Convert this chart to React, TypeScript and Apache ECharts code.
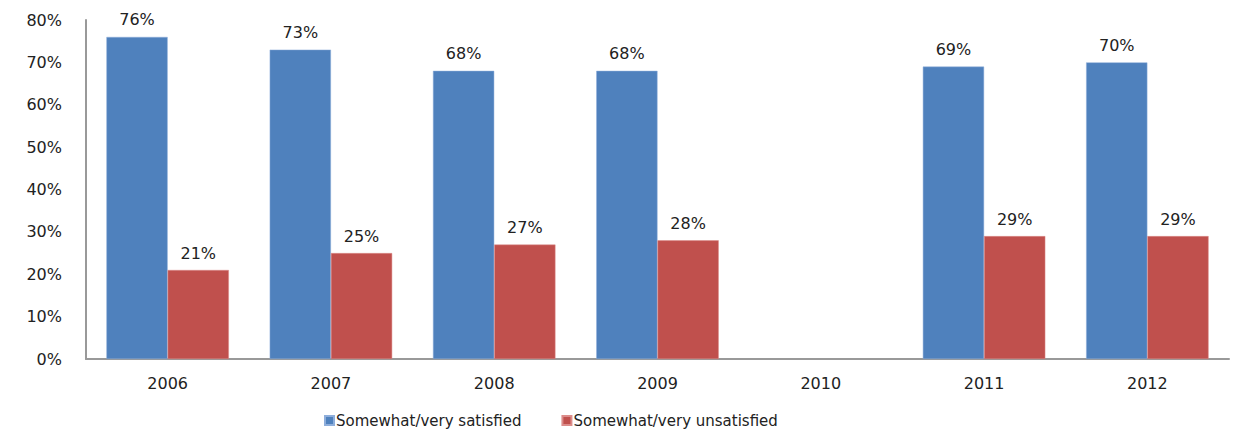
import React, { useEffect, useRef } from "react";
import * as echarts from "echarts";

const categories = ["2006", "2007", "2008", "2009", "2010", "2011", "2012"];
const satisfied: (number | null)[] = [76, 73, 68, 68, null, 69, 70];
const unsatisfied: (number | null)[] = [21, 25, 27, 28, null, 29, 29];
const yTicks = [0, 10, 20, 30, 40, 50, 60, 70, 80];

const FONT = "DejaVu Sans";

export default function App() {
  const ref = useRef<HTMLDivElement>(null);
  useEffect(() => {
    if (!ref.current) return;
    const chart = echarts.init(ref.current, undefined, { renderer: "svg" });
    const label = {
      show: true,
      position: "top" as const,
      distance: 9,
      formatter: (p: any) => `${p.value}%`,
      color: "#222",
      fontFamily: FONT,
      fontSize: 16,
    };
    chart.setOption({
      animation: false,
      textStyle: { fontFamily: FONT },
      grid: { left: 86, right: 13, top: 20, bottom: 74 },
      legend: {
        left: 324,
        top: 413,
        padding: 0,
        itemWidth: 9,
        itemHeight: 9,
        itemGap: 40,
        icon: "rect",
        textStyle: { fontFamily: FONT, fontSize: 15, color: "#222", padding: [0, 0, 0, -3] },
        data: ["Somewhat/very satisfied", "Somewhat/very unsatisfied"],
      },
      xAxis: {
        type: "category",
        data: categories,
        axisLine: { lineStyle: { color: "#999", width: 2 } },
        axisTick: { show: false },
        axisLabel: { fontFamily: FONT, fontSize: 16, color: "#222", margin: 16 },
      },
      yAxis: {
        type: "value",
        min: yTicks[0],
        max: yTicks[yTicks.length - 1],
        interval: 10,
        splitLine: { show: false },
        axisLine: { show: true, lineStyle: { color: "#999", width: 2 } },
        axisTick: { show: false },
        axisLabel: {
          fontFamily: FONT,
          fontSize: 16,
          color: "#222",
          margin: 24,
          formatter: (v: number) => `${v}%`,
        },
      },
      series: [
        {
          name: "Somewhat/very satisfied",
          type: "bar",
          data: satisfied,
          barGap: "0%",
          barCategoryGap: "25%",
          itemStyle: { color: "#4f81bd", borderColor: "#8eaedb", borderWidth: 0.5 },
          label,
        },
        {
          name: "Somewhat/very unsatisfied",
          type: "bar",
          data: unsatisfied,
          barGap: "0%",
          barCategoryGap: "25%",
          itemStyle: { color: "#c0504d", borderColor: "#dc8c8a", borderWidth: 0.5 },
          label,
        },
      ],
    });
    return () => chart.dispose();
  }, []);
  return <div ref={ref} style={{ width: 1242, height: 433, position: "absolute", left: 0, top: 0 }} />;
}
